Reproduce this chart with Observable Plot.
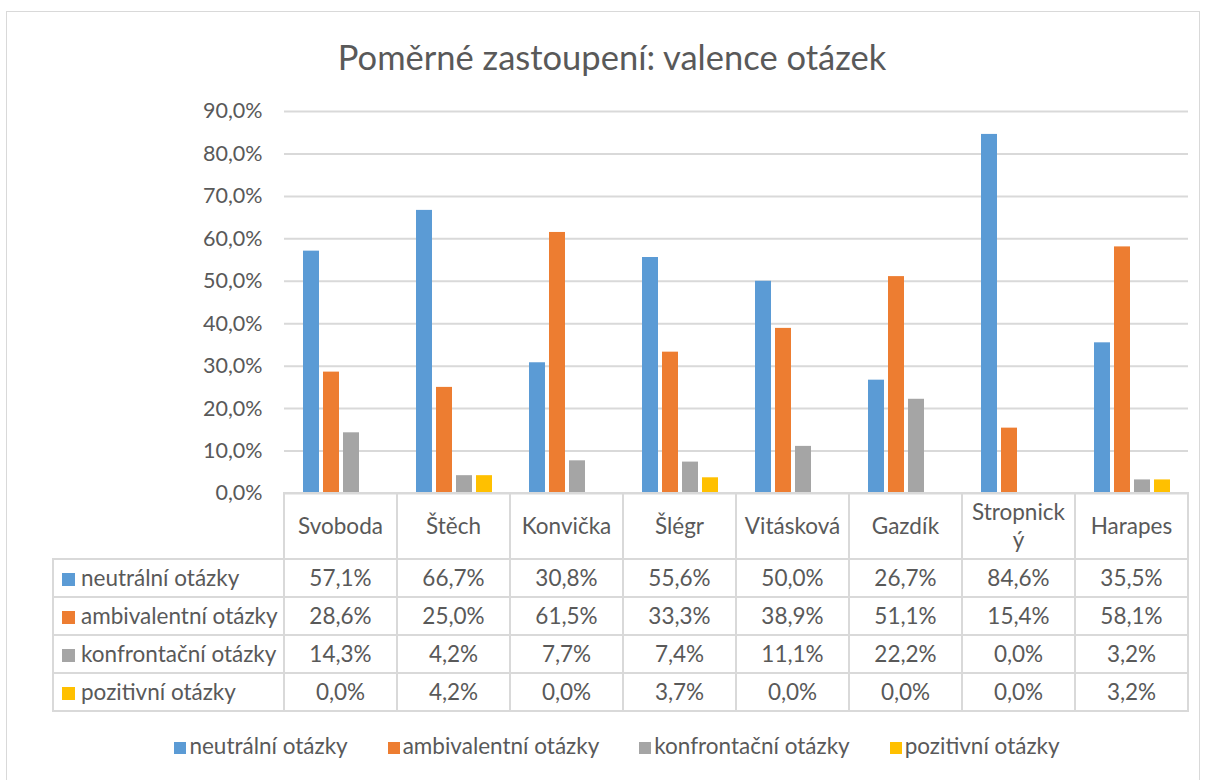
<!DOCTYPE html>
<html>
<head>
<meta charset="utf-8">
<script src="https://cdn.jsdelivr.net/npm/d3@7"></script>
<script src="https://cdn.jsdelivr.net/npm/@observablehq/plot@0.6"></script>
<style>
  html, body { margin: 0; padding: 0; background: #fff; }
  body { width: 1206px; height: 780px; overflow: hidden; font-family: Lato, "Open Sans", sans-serif; color: #595959; }
  #wrap { position: relative; width: 1206px; height: 780px; }
  #frame { position: absolute; left: 6px; top: 11px; width: 1194px; height: 800px; border: 1px solid #d9d9d9; box-sizing: border-box; }
  #title { position: absolute; left: 0; width: 1224px; top: 35px; text-align: center; font-size: 34.5px; line-height: 44px; color: #595959; }
  #chart { position: absolute; left: 0; top: 0; }
  #tbl { position: absolute; top: 492px; left: 52px; border-collapse: collapse; table-layout: fixed; font-size: 22.5px; color: #595959; }
  #tbl td { border: 2px solid #d9d9d9; text-align: center; padding: 0; white-space: pre-line; line-height: 28px; overflow: hidden; }
  #tbl td.rh { text-align: left; padding-left: 8px; white-space: nowrap; }
  #tbl td.empty { border-top: none; border-left: none; }
  .sw { display: inline-block; width: 13px; height: 13px; margin-right: 6px; vertical-align: 0px; }
  #legend { position: absolute; top: 732px; left: 0; width: 1234px; display: flex; justify-content: center; gap: 40px; font-size: 22.5px; line-height: 28px; color: #595959; }
  #legend .sw { margin-right: 3px; width: 12px; height: 12px; }
</style>
</head>
<body>
<div id="wrap">
  <div id="frame"></div>
  <div id="title">Poměrné zastoupení: valence otázek</div>
  <div id="chart"></div>
  <table id="tbl"></table>
  <div id="legend"></div>
</div>
<script>
const categories = ["Svoboda", "Štěch", "Konvička", "Šlégr", "Vitásková", "Gazdík", "Stropnický", "Harapes"];
const categoryLabels = ["Svoboda", "Štěch", "Konvička", "Šlégr", "Vitásková", "Gazdík", "Stropnick\ný", "Harapes"];
const series = ["neutrální otázky", "ambivalentní otázky", "konfrontační otázky", "pozitivní otázky"];
const colors = ["#5b9bd5", "#ed7d31", "#a5a5a5", "#ffc000"];
const neutralni = [57.1, 66.7, 30.8, 55.6, 50.0, 26.7, 84.6, 35.5];
const ambivalentni = [28.6, 25.0, 61.5, 33.3, 38.9, 51.1, 15.4, 58.1];
const konfrontacni = [14.3, 4.2, 7.7, 7.4, 11.1, 22.2, 0.0, 3.2];
const pozitivni = [0.0, 4.2, 0.0, 3.7, 0.0, 0.0, 0.0, 3.2];
const yTicks = [0, 10, 20, 30, 40, 50, 60, 70, 80, 90];

const seriesValues = [neutralni, ambivalentni, konfrontacni, pozitivni];
const fmt = v => v.toFixed(1).replace(".", ",") + "%";

const data = [];
categories.forEach((c, i) => {
  series.forEach((s, j) => {
    data.push({cat: c, series: s, value: seriesValues[j][i]});
  });
});

const plot = Plot.plot({
  width: 1206,
  height: 520,
  marginLeft: 283,
  marginRight: 18,
  marginTop: 111,
  marginBottom: 27,
  style: {fontFamily: "Lato, 'Open Sans', sans-serif", fontSize: "21.5px", color: "#595959", background: "transparent", overflow: "visible"},
  fx: {domain: categories, padding: 0, axis: null},
  x: {domain: series, paddingInner: 0.22, paddingOuter: 0.86, axis: null},
  y: {domain: [0, 90], axis: null},
  color: {domain: series, range: colors},
  marks: [
    Plot.gridY(yTicks, {stroke: "#d9d9d9", strokeOpacity: 1, strokeWidth: 2}),
    Plot.axisY(yTicks, {tickSize: 0, tickPadding: 22, tickFormat: fmt, fill: "#595959", label: null}),
    Plot.barY(data.filter(d => d.value > 0), {fx: "cat", x: "series", y: "value", fill: "series"})
  ]
});
document.getElementById("chart").appendChild(plot);

// data table aligned to the fx scale
const fx = plot.scale("fx");
const bw = fx.bandwidth;
const tbl = document.getElementById("tbl");
const colg = document.createElement("colgroup");
const c0 = document.createElement("col"); c0.style.width = (283 - 52) + "px"; colg.appendChild(c0);
categories.forEach(() => { const c = document.createElement("col"); c.style.width = bw + "px"; colg.appendChild(c); });
tbl.appendChild(colg);
tbl.style.width = (283 - 52 + bw * categories.length) + "px";

const hr = document.createElement("tr");
hr.style.height = "66px";
const e = document.createElement("td"); e.className = "empty"; hr.appendChild(e);
categoryLabels.forEach(l => { const td = document.createElement("td"); td.textContent = l; hr.appendChild(td); });
tbl.appendChild(hr);

series.forEach((s, j) => {
  const tr = document.createElement("tr");
  tr.style.height = "38px";
  const th = document.createElement("td");
  th.className = "rh";
  th.innerHTML = `<span class="sw" style="background:${colors[j]}"></span>${s}`;
  tr.appendChild(th);
  seriesValues[j].forEach(v => { const td = document.createElement("td"); td.textContent = fmt(v); tr.appendChild(td); });
  tbl.appendChild(tr);
});

const legend = document.getElementById("legend");
series.forEach((s, j) => {
  const it = document.createElement("div");
  it.innerHTML = `<span class="sw" style="background:${colors[j]}"></span>${s}`;
  legend.appendChild(it);
});
</script>
</body>
</html>
